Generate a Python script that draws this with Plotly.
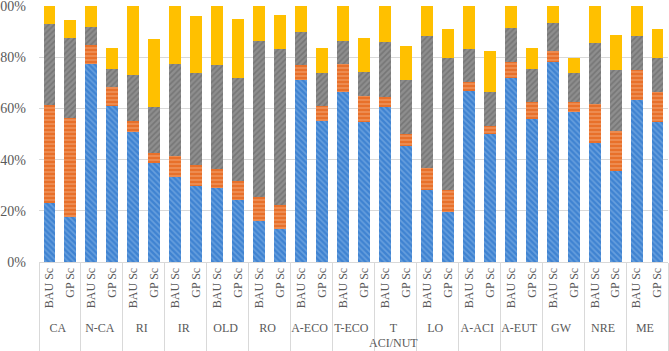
import plotly.graph_objects as go

groups = ["CA", "N-CA", "RI", "IR", "OLD", "RO", "A-ECO", "T-ECO", "T<br>ACI/NUT",
          "LO", "A-ACI", "A-EUT", "GW", "NRE", "ME"]
scenarios = ["BAU Sc", "GP Sc"]

# segment shares (%), order: CA BAU, CA GP, N-CA BAU, N-CA GP, ...
blue = [22.9, 17.7, 77.3, 60.9, 50.9, 38.8, 33.3, 29.8, 28.8, 24.2,
        16.0, 12.8, 71.1, 55.2, 66.5, 54.6, 60.4, 45.4, 28.1, 19.4,
        66.9, 50.0, 72.0, 55.9, 78.3, 58.5, 46.6, 35.7, 63.5, 54.8]
orange = [38.4, 38.4, 7.5, 7.6, 4.3, 3.9, 8.2, 8.1, 7.4, 7.4,
          9.5, 9.5, 5.9, 5.7, 10.7, 10.2, 4.2, 4.5, 8.7, 8.7,
          3.5, 3.3, 6.3, 6.5, 4.3, 4.1, 15.1, 15.5, 11.5, 11.5]
gray = [31.7, 31.5, 6.9, 7.0, 17.7, 18.0, 35.7, 35.8, 40.6, 40.5,
        61.0, 60.9, 12.7, 13.0, 9.3, 9.5, 21.5, 21.2, 51.6, 51.5,
        12.9, 13.1, 13.0, 12.9, 10.9, 11.1, 24.0, 23.8, 13.3, 13.3]
yellow = [7.0, 6.9, 8.3, 8.0, 27.1, 26.4, 22.8, 22.4, 23.2, 22.8,
          13.5, 13.2, 10.3, 9.8, 13.5, 13.1, 13.9, 13.5, 11.6, 11.3,
          16.7, 16.2, 8.7, 8.2, 6.5, 6.1, 14.3, 13.9, 11.7, 11.3]

y_ticks = [0, 0.2, 0.4, 0.6, 0.8, 1.0]

x_outer = [g for g in groups for _ in scenarios]
x_inner = [s for _ in groups for s in scenarios]

series = [
    ("S1", blue, "#3F83D1", "#8FBBEA", "\\"),
    ("S2", orange, "#E8702A", "#F7B48A", "-"),
    ("S3", gray, "#8E8E8E", "#5E5E5E", "/"),
    ("S4", yellow, "#FFC000", None, ""),
]

fig = go.Figure()
for name, vals, col, fg, shape in series:
    marker = dict(color=col, line=dict(width=0))
    if shape:
        marker["pattern"] = dict(shape=shape, fgcolor=fg, size=4, solidity=0.4, fillmode="overlay")
    fig.add_trace(go.Bar(x=[x_outer, x_inner], y=[v / 100 for v in vals], name=name,
                         marker=marker, showlegend=False))

fig.update_layout(
    barmode="stack",
    bargap=0.43,
    width=669, height=351,
    margin=dict(l=39, r=1, t=6, b=89),
    plot_bgcolor="white", paper_bgcolor="white",
    font=dict(family="Liberation Serif", color="#595959", size=12),
)
fig.update_yaxes(range=[0, 1.0005], tickvals=y_ticks, tickformat=".0%", showgrid=True,
                 gridcolor="#D9D9D9", gridwidth=1, zeroline=False, automargin=False,
                 ticklabelstandoff=12, ticklabeloverflow="allow",
                 tickfont=dict(size=14, color="#595959"))
fig.update_xaxes(type="multicategory", tickangle=-90, showline=True, linecolor="#D9D9D9",
                 showdividers=True, dividercolor="#D9D9D9", dividerwidth=1, automargin=False,
                 tickfont=dict(size=12, color="#595959"))

fig.write_html("out.html")
